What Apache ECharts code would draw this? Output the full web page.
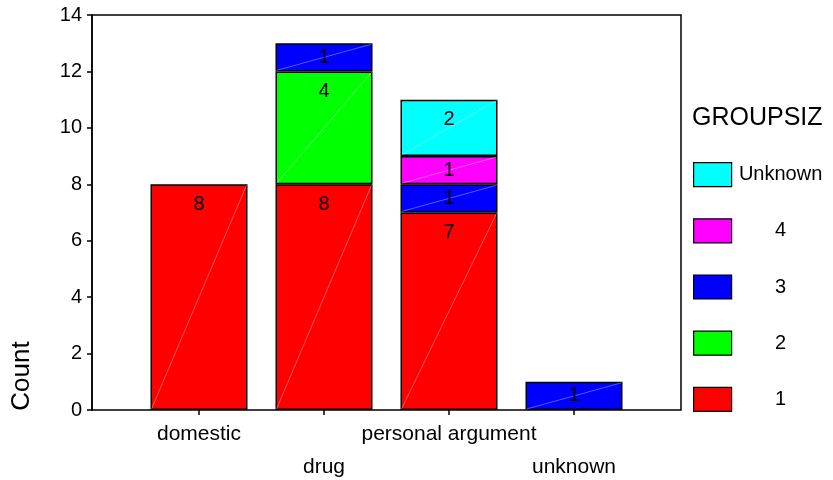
<!DOCTYPE html>
<html>
<head>
<meta charset="utf-8">
<script src="https://cdn.jsdelivr.net/npm/echarts@6/dist/echarts.min.js"></script>
<style>html,body{margin:0;padding:0;background:#fff}#c{width:833px;height:480px}</style>
</head>
<body>
<div id="c"></div>
<script>
var categories = ['domestic', 'drug', 'personal argument', 'unknown'];
var groupNames = ['1', '2', '3', '4', 'Unknown'];
var g1 = [8, 8, 7, null];
var g2 = [null, 4, null, null];
var g3 = [null, 1, 1, 1];
var g4 = [null, null, 1, null];
var gU = [null, null, 2, null];
var yTicks = { min: 0, max: 14, interval: 2 };
var legendTitle = 'GROUPSIZ';
var yTitle = 'Count';

var colors = ['#FF0000', '#00FF00', '#0000FF', '#FF00FF', '#00FFFF'];
var seriesValues = [g1, g2, g3, g4, gU];
var FONT = 'Arial, "Liberation Sans", sans-serif';
var BAR_W = 97;

function makeData(arr) {
  return arr.map(function (v) {
    if (v == null) return '-';
    return {
      value: v,
      label: v > 1 ? { position: 'insideTop', distance: 10 } : { position: 'inside' }
    };
  });
}

var series = [];
// faint diagonal line inside every segment (bottom-left to top-right), from the same stacked values
var diagData = [];
categories.forEach(function (c, ci) {
  var base = 0;
  seriesValues.forEach(function (vals) {
    var v = vals[ci];
    if (v != null) { diagData.push([ci, base, base + v]); base += v; }
  });
});

seriesValues.forEach(function (vals, i) {
  series.push({
    name: groupNames[i],
    type: 'bar',
    stack: 'total',
    xAxisIndex: 1,
    yAxisIndex: 1,
    barWidth: BAR_W,
    data: makeData(vals),
    itemStyle: { color: colors[i], borderColor: '#000', borderWidth: 1.5 },
    label: { show: false },
    emphasis: { disabled: true },
    z: 2
  });
});

series.push({
  type: 'custom',
  xAxisIndex: 1,
  yAxisIndex: 1,
  silent: true,
  z: 3,
  data: diagData,
  renderItem: function (params, api) {
    var p0 = api.coord([api.value(0), api.value(1)]);
    var p1 = api.coord([api.value(0), api.value(2)]);
    var hw = BAR_W / 2 - 1;
    return {
      type: 'line',
      shape: { x1: p0[0] - hw, y1: p0[1] - 1, x2: p1[0] + hw, y2: p1[1] + 1 },
      style: { stroke: 'rgba(255,255,255,0.35)', lineWidth: 1 }
    };
  }
});

// value labels drawn on top, via invisible stacked bars carrying the labels
seriesValues.forEach(function (vals, i) {
  series.push({
    name: groupNames[i] + ' ',
    type: 'bar',
    stack: 'labels',
    xAxisIndex: 1,
    yAxisIndex: 1,
    barWidth: BAR_W,
    barGap: '-100%',
    data: makeData(vals),
    itemStyle: { color: 'rgba(0,0,0,0)', borderWidth: 0 },
    label: { show: true, color: '#000', fontSize: 20, fontFamily: FONT },
    emphasis: { disabled: true },
    silent: true,
    z: 4
  });
});

var chart = echarts.init(document.getElementById('c'), null, { renderer: 'canvas' });
chart.setOption({
  animation: false,
  color: colors,
  title: {
    text: legendTitle,
    left: 692, top: 106, padding: 0,
    textStyle: { fontSize: 25, fontWeight: 'normal', color: '#000', fontFamily: FONT }
  },
  graphic: [{
    type: 'text', x: 22, y: 376, rotation: Math.PI / 2,
    style: { text: yTitle, fontSize: 26, fontFamily: FONT, fill: '#000', align: 'center', verticalAlign: 'middle' }
  }],
  legend: {
    orient: 'vertical',
    left: 693, top: 162, padding: 0,
    icon: 'rect',
    itemWidth: 38, itemHeight: 24, itemGap: 31,
    data: groupNames.slice().reverse(),
    itemStyle: { borderColor: '#000', borderWidth: 1.2 },
    formatter: function (n) { return '{a|' + n + '}'; },
    textStyle: {
      color: '#000', fontSize: 20, fontFamily: FONT,
      rich: { a: { width: 88, align: 'center', fontSize: 20, fontFamily: FONT, color: '#000' } }
    },
    selectedMode: false
  },
  grid: [
    { left: 92, right: 152, top: 15, bottom: 70, show: true, borderColor: '#000', borderWidth: 1.5, backgroundColor: 'transparent', containLabel: false, outerBoundsMode: 'none' },
    { left: 136.5, right: 196.5, top: 15, bottom: 70, containLabel: false, outerBoundsMode: 'none' }
  ],
  xAxis: [
    { type: 'category', gridIndex: 0, data: categories, show: false },
    {
      type: 'category', gridIndex: 1, data: categories,
      axisLine: { show: false },
      axisTick: { show: true, alignWithLabel: true, length: 5, lineStyle: { color: '#000', width: 1.5 } },
      axisLabel: {
        interval: 0, margin: 8, color: '#000', fontSize: 21, fontFamily: FONT, lineHeight: 33,
        formatter: function (v, i) { return i % 2 === 1 ? '\n' + v : v; }
      }
    }
  ],
  yAxis: [
    {
      type: 'value', gridIndex: 0, min: yTicks.min, max: yTicks.max, interval: yTicks.interval,
      axisLine: { show: true, lineStyle: { color: '#000', width: 1.5 } },
      axisTick: { show: true, length: 5, lineStyle: { color: '#000', width: 1.5 } },
      axisLabel: { color: '#000', fontSize: 20, fontFamily: FONT, margin: 10 },
      splitLine: { show: false }
    },
    { type: 'value', gridIndex: 1, min: yTicks.min, max: yTicks.max, interval: yTicks.interval, show: false }
  ],
  series: series
});
</script>
</body>
</html>
